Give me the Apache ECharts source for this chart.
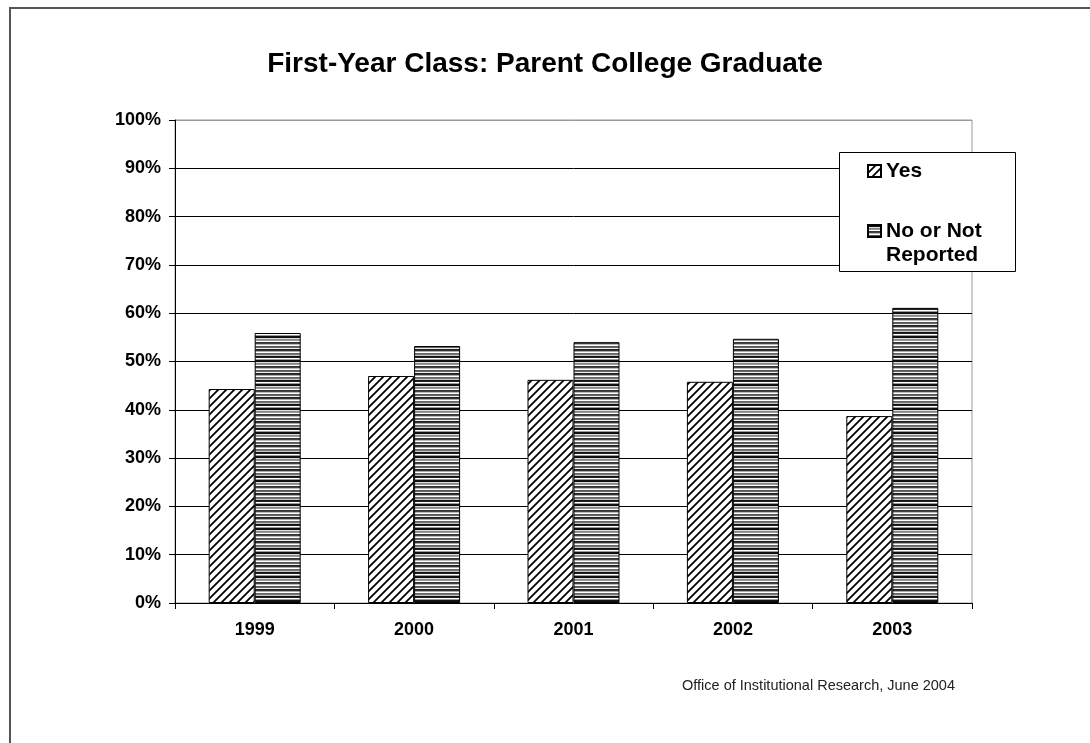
<!DOCTYPE html>
<html>
<head>
<meta charset="utf-8">
<script src="https://cdn.jsdelivr.net/npm/echarts@6/dist/echarts.min.js"></script>
<style>
  html, body { margin: 0; padding: 0; background: #fff; }
  #chart { width: 1090px; height: 743px; }
</style>
</head>
<body>
<div id="chart"></div>
<script>
// Survey years and shares (percent of first-year class)
const years = ['1999', '2000', '2001', '2002', '2003'];
const yesValues = [44.3, 47.0, 46.2, 45.8, 38.7];
const noValues = [55.9, 53.2, 54.0, 54.7, 61.1];
const seriesNames = ['Yes', 'No or Not\nReported'];
const yTicks = [0, 10, 20, 30, 40, 50, 60, 70, 80, 90, 100];

// Diagonal hatch fill
function hatchPattern() {
  const c = document.createElement('canvas');
  c.width = 8; c.height = 8;
  const g = c.getContext('2d');
  g.fillStyle = '#fff';
  g.fillRect(0, 0, 8, 8);
  g.strokeStyle = '#000';
  g.lineWidth = 1.8;
  g.beginPath();
  g.moveTo(-2, 10); g.lineTo(10, -2);
  g.moveTo(-2, 2); g.lineTo(2, -2);
  g.moveTo(6, 10); g.lineTo(10, 6);
  g.stroke();
  return c;
}

// Horizontal stripes in mixed greys
function stripePattern() {
  const rows = ['#111', '#111', '#ddd', '#888', '#999', '#fff', '#333', '#444',
                '#bbb', '#fff', '#555', '#666', '#eee', '#222', '#333', '#aaa',
                '#fff', '#666', '#777', '#ccc', '#111', '#222', '#fff', '#999'];
  const c = document.createElement('canvas');
  c.width = 4; c.height = rows.length;
  const g = c.getContext('2d');
  rows.forEach((col, i) => { g.fillStyle = col; g.fillRect(0, i, 4, 1); });
  return c;
}

const FONT = '"Liberation Sans", Arial, sans-serif';
const chart = echarts.init(document.getElementById('chart'), null, { renderer: 'canvas' });

const splitColors = yTicks.map((t, i) => (i === yTicks.length - 1 ? '#999' : '#000'));

chart.setOption({
  animation: false,
  backgroundColor: '#fff',
  title: {
    text: 'First-Year Class: Parent College Graduate',
    left: 'center',
    top: 50,
    padding: 0,
    textStyle: { fontFamily: FONT, fontWeight: 'bold', fontSize: 28, color: '#000' }
  },
  grid: {
    left: 175, right: 118, top: 120, bottom: 140,
    show: true, borderColor: '#999', borderWidth: 1, backgroundColor: 'transparent'
  },
  legend: {
    orient: 'vertical',
    left: 867,
    top: 159,
    padding: 0,
    itemGap: 12,
    itemWidth: 13,
    itemHeight: 12,
    icon: 'rect',
    z: 10,
    data: seriesNames,
    // a blank leading line keeps the icon level with the first text line
    formatter: name => (name.indexOf('\n') >= 0 ? '\n' + name : name),
    textStyle: { fontFamily: FONT, fontWeight: 'bold', fontSize: 21, lineHeight: 24, color: '#000' }
  },
  xAxis: {
    type: 'category',
    data: years,
    axisLine: { lineStyle: { color: '#000', width: 1 } },
    axisTick: { show: true, length: 6, interval: 0, lineStyle: { color: '#000' } },
    axisLabel: { margin: 18, fontFamily: FONT, fontWeight: 'bold', fontSize: 18, color: '#000' }
  },
  yAxis: {
    type: 'value',
    min: 0, max: 100, interval: 10,
    axisLine: { show: true, lineStyle: { color: '#000', width: 1 } },
    axisTick: { show: true, length: 6, lineStyle: { color: '#000' } },
    axisLabel: { margin: 14, formatter: '{value}%', fontFamily: FONT, fontWeight: 'bold', fontSize: 18, color: '#000' },
    splitLine: { show: true, lineStyle: { color: splitColors, width: 1 } }
  },
  series: [
    {
      name: seriesNames[0], type: 'bar', data: yesValues,
      barWidth: 46, barGap: '0%',
      itemStyle: { color: { image: hatchPattern(), repeat: 'repeat' }, borderColor: '#000', borderWidth: 1 }
    },
    {
      name: seriesNames[1], type: 'bar', data: noValues,
      barWidth: 46,
      itemStyle: { color: { image: stripePattern(), repeat: 'repeat' }, borderColor: '#000', borderWidth: 1 }
    }
  ],
  graphic: [
    {
      type: 'rect', z: 0, silent: true,
      shape: { x: 10, y: 8, width: 1200, height: 1000 },
      style: { fill: 'none', stroke: '#555', lineWidth: 2 }
    },
    {
      type: 'rect', z: 5, silent: true,
      shape: { x: 839.5, y: 152.5, width: 176, height: 119 },
      style: { fill: '#fff', stroke: '#000', lineWidth: 1 }
    },
    {
      type: 'text', z: 5, silent: true,
      x: 955, y: 686,
      style: {
        text: 'Office of Institutional Research, June 2004',
        fontFamily: FONT, fontSize: 14.5, fill: '#222',
        textAlign: 'right', textVerticalAlign: 'middle'
      }
    }
  ]
});
</script>
</body>
</html>
